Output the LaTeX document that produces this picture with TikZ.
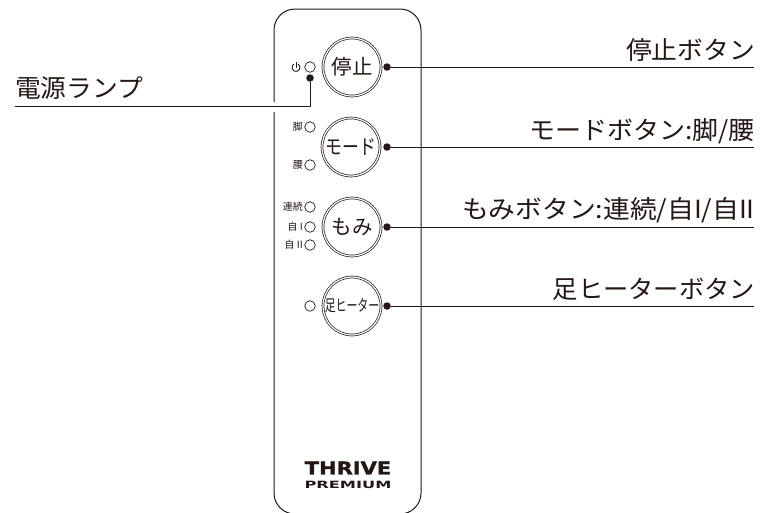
\documentclass[tikz,border=0pt]{standalone}
\usepackage{fontspec}
\setmainfont{Noto Sans CJK JP}
\newfontfamily\logofont{DejaVu Sans}
\newfontfamily\logoheavy[FakeBold=1.5]{DejaVu Sans Bold}
\definecolor{ink}{HTML}{231815}
\tikzset{
 btn/.style={circle,draw=ink,line width=0.7pt,double=white,double distance=1.2pt,minimum size=58pt,inner sep=0pt,font=\fontsize{20.5}{20.5}\selectfont,text=ink},
 lamp/.style={circle,draw=ink,line width=0.7pt,minimum size=10.5pt,inner sep=0pt},
 dotn/.style={circle,fill=ink,minimum size=7.5pt,inner sep=0pt},
 lead/.style={draw=ink,line width=0.9pt},
 lab/.style={anchor=base east,font=\fontsize{25}{25}\selectfont,text=ink,inner sep=0pt},
 small/.style={anchor=east,font=\fontsize{10}{10}\selectfont,text=ink,inner sep=0pt},
}
\begin{document}
\begin{tikzpicture}[x=1pt,y=-1pt]
\useasboundingbox (0,0) rectangle (761,512);
\fill[white] (0,0) rectangle (761,512);
\draw[ink,line width=1pt,rounded corners=21pt] (274,102) -- (274,9) -- (421,9) -- (421,514) -- (274,514) -- (274,112);
\node[btn] (b1) at (352,67) {停止};
\node[btn] (b2) at (351,147) {\scalebox{0.82}[1]{モード}};
\node[btn] (b3) at (352,227) {もみ};
\node[btn] (b4) at (352,306) {\fontsize{16}{16}\selectfont\scalebox{0.68}[1]{足ヒーター}};
\node[lamp] (l0) at (310,67) {};
\node[lamp] (l1) at (310,127) {};
\node[lamp] (l2) at (310,165) {};
\node[lamp] (l3) at (310,207) {};
\node[lamp] (l4) at (310,227) {};
\node[lamp] (l5) at (310,245) {};
\node[lamp] (l6) at (310,306) {};
\draw[ink,line width=0.9pt] (298,64) arc[start angle=-60,end angle=240,radius=4];
\draw[ink,line width=0.9pt] (296,62) -- (296,68);
\node[small] (t1) at (303,127) {脚};
\node[small] (t2) at (303,165) {腰};
\node[small] (t3) at (303,207) {連続};
\node[small] (t4) at (303,227) {自 I};
\node[small] (t5) at (303,245) {自 II};
\node[dotn] (d0) at (310,78) {};
\node[dotn] (d1) at (387,67) {};
\node[dotn] (d2) at (387,147) {};
\node[dotn] (d3) at (387,227) {};
\node[dotn] (d4) at (387,306) {};
\coordinate (e0) at (15,106);
\coordinate (e1) at (754,67);
\coordinate (e2) at (754,147);
\coordinate (e3) at (754,227);
\coordinate (e4) at (754,306);
\draw[lead] (d0) |- (e0);
\draw[lead] (d1) -- (e1);
\draw[lead] (d2) -- (e2);
\draw[lead] (d3) -- (e3);
\draw[lead] (d4) -- (e4);
\node[lab,anchor=base west] (n0) at (15,97) {\scalebox{1.03}[1]{電源ランプ}};
\node[lab] (n1) at (755,59) {\scalebox{1.03}[1]{停止ボタン}};
\node[lab] (n2) at (755,139) {\scalebox{1.04}[1]{モードボタン:脚/腰}};
\node[lab] (n3) at (755,218) {\scalebox{1.07}[1]{もみボタン:連続/自I/自II}};
\node[lab] (n4) at (755,298) {\scalebox{1.01}[1]{足ヒーターボタン}};
\node[inner sep=0pt,text=ink] (logo1) at (348,468) {\logoheavy\fontsize{17.5}{17.5}\selectfont\scalebox{1.2}[1]{THRIVE}};
\node[inner sep=0pt,text=ink] (logo2) at (348,485) {\logofont\bfseries\fontsize{10}{10}\selectfont\scalebox{1.62}[1]{PREMIUM}};
\end{tikzpicture}
\end{document}
